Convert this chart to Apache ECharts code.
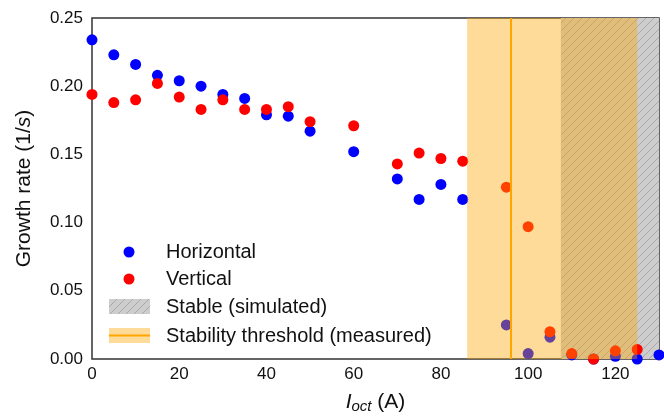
<!DOCTYPE html>
<html>
<head>
<meta charset="utf-8">
<script src="https://cdn.jsdelivr.net/npm/echarts@6/dist/echarts.min.js"></script>
<style>
  html, body { margin: 0; padding: 0; background: #fff; }
  #chart { width: 664px; height: 419px; }
</style>
</head>
<body>
<div id="chart"></div>
<script>
// octupole current (A)
const currents = [0, 5, 10, 15, 20, 25, 30, 35, 40, 45, 50, 60, 70, 75, 80, 85, 95, 100, 105, 110, 115, 120, 125, 130];
const horizontal = [0.234, 0.223, 0.216, 0.208, 0.204, 0.200, 0.194, 0.191, 0.179, 0.178, 0.167, 0.152, 0.132, 0.117, 0.128, 0.117, 0.025, 0.004, 0.016, 0.003, 0.000, 0.002, 0.000, 0.003];
const vertical = [0.194, 0.188, 0.190, 0.202, 0.192, 0.183, 0.190, 0.183, 0.183, 0.185, 0.174, 0.171, 0.143, 0.151, 0.147, 0.145, 0.126, 0.097, 0.020, 0.004, 0.000, 0.006, 0.007];
const stableRange = [107.5, 130];      // simulated stable region
const thresholdBand = [86, 125];       // measured threshold band
const thresholdLine = 96;

const chart = echarts.init(document.getElementById('chart'));
const font = '"Liberation Sans", Arial, sans-serif';

const pairs = (ys) => ys.map((v, i) => [currents[i], v]);

// hatch tile: grey fill with "/" lines
function hatchPattern() {
  const c = document.createElement('canvas');
  c.width = 8; c.height = 8;
  const g = c.getContext('2d');
  g.fillStyle = '#cdcdcd';
  g.fillRect(0, 0, 8, 8);
  g.strokeStyle = '#a9a9a9';
  g.lineWidth = 1;
  g.beginPath();
  g.moveTo(-1, 9); g.lineTo(9, -1);
  g.moveTo(-5, 5); g.lineTo(5, -5);
  g.moveTo(3, 13); g.lineTo(13, 3);
  g.stroke();
  return { image: c, repeat: 'repeat' };
}
const hatch = hatchPattern();

const option = {
  animation: false,
  grid: { left: 92, right: 5, top: 18, bottom: 55, show: true, borderColor: '#333', borderWidth: 1.5, backgroundColor: 'transparent' },
  xAxis: {
    type: 'value', min: 0, max: 130, interval: 20,
    axisLine: { show: false },
    axisTick: { show: false },
    splitLine: { show: false },
    axisLabel: { color: '#111', fontSize: 17, fontFamily: font, margin: 7, showMaxLabel: false },
    name: '{i|I}{sub|oct} (A)',
    nameLocation: 'middle',
    nameGap: 31,
    nameTextStyle: {
      color: '#111', fontSize: 21, fontFamily: font,
      rich: {
        i: { fontStyle: 'italic', fontSize: 21, fontFamily: font, color: '#111' },
        sub: { fontStyle: 'italic', fontSize: 15, fontFamily: font, color: '#111', padding: [9, 0, 0, 0] }
      }
    }
  },
  yAxis: {
    type: 'value', min: 0, max: 0.25, interval: 0.05,
    axisLine: { show: false },
    axisTick: { show: false },
    splitLine: { show: false },
    axisLabel: { color: '#111', fontSize: 17, fontFamily: font, margin: 9, formatter: v => v.toFixed(2) },
    name: 'Growth rate (1/{i|s})',
    nameLocation: 'middle',
    nameGap: 57,
    nameTextStyle: {
      color: '#111', fontSize: 21, fontFamily: font,
      rich: { i: { fontStyle: 'italic', fontSize: 21, fontFamily: font, color: '#111' } }
    }
  },
  series: [
    {
      name: 'Stable (simulated)', type: 'line', data: [], z: 1,
      markArea: {
        silent: true, z: 1,
        itemStyle: { color: hatch },
        data: [[{ xAxis: stableRange[0] }, { xAxis: stableRange[1] }]]
      }
    },
    {
      name: 'Horizontal', type: 'scatter', symbolSize: 11, z: 2,
      itemStyle: { color: '#0000ff', opacity: 1 },
      data: pairs(horizontal)
    },
    {
      name: 'Vertical', type: 'scatter', symbolSize: 11, z: 3,
      itemStyle: { color: '#ff0000', opacity: 1 },
      data: pairs(vertical)
    },
    {
      name: 'Stability threshold (measured)', type: 'line', data: [], z: 5,
      markArea: {
        silent: true, z: 5,
        itemStyle: { color: 'rgba(255,165,0,0.4)' },
        data: [[{ xAxis: thresholdBand[0] }, { xAxis: thresholdBand[1] }]]
      },
      markLine: {
        silent: true, z: 6, symbol: 'none',
        label: { show: false },
        lineStyle: { color: '#ffa500', width: 2, type: 'solid' },
        data: [{ xAxis: thresholdLine }]
      }
    }
  ],
  graphic: [
    { type: 'circle', shape: { cx: 129, cy: 252, r: 5.5 }, style: { fill: '#0000ff' } },
    { type: 'text', x: 166, y: 252, style: { text: 'Horizontal', fontSize: 20, fontFamily: font, fill: '#111', verticalAlign: 'middle' } },
    { type: 'circle', shape: { cx: 129, cy: 279, r: 5.5 }, style: { fill: '#ff0000' } },
    { type: 'text', x: 166, y: 279, style: { text: 'Vertical', fontSize: 20, fontFamily: font, fill: '#111', verticalAlign: 'middle' } },
    { type: 'rect', shape: { x: 109, y: 299, width: 41, height: 15 }, style: { fill: hatch } },
    { type: 'text', x: 166, y: 307, style: { text: 'Stable (simulated)', fontSize: 20, fontFamily: font, fill: '#111', verticalAlign: 'middle' } },
    { type: 'rect', shape: { x: 109, y: 328, width: 41, height: 15 }, style: { fill: 'rgba(255,165,0,0.4)' } },
    { type: 'line', shape: { x1: 109, y1: 335.5, x2: 150, y2: 335.5 }, style: { stroke: '#ffa500', lineWidth: 2 } },
    { type: 'text', x: 166, y: 336, style: { text: 'Stability threshold (measured)', fontSize: 20, fontFamily: font, fill: '#111', verticalAlign: 'middle' } }
  ]
};
chart.setOption(option);
</script>
</body>
</html>
